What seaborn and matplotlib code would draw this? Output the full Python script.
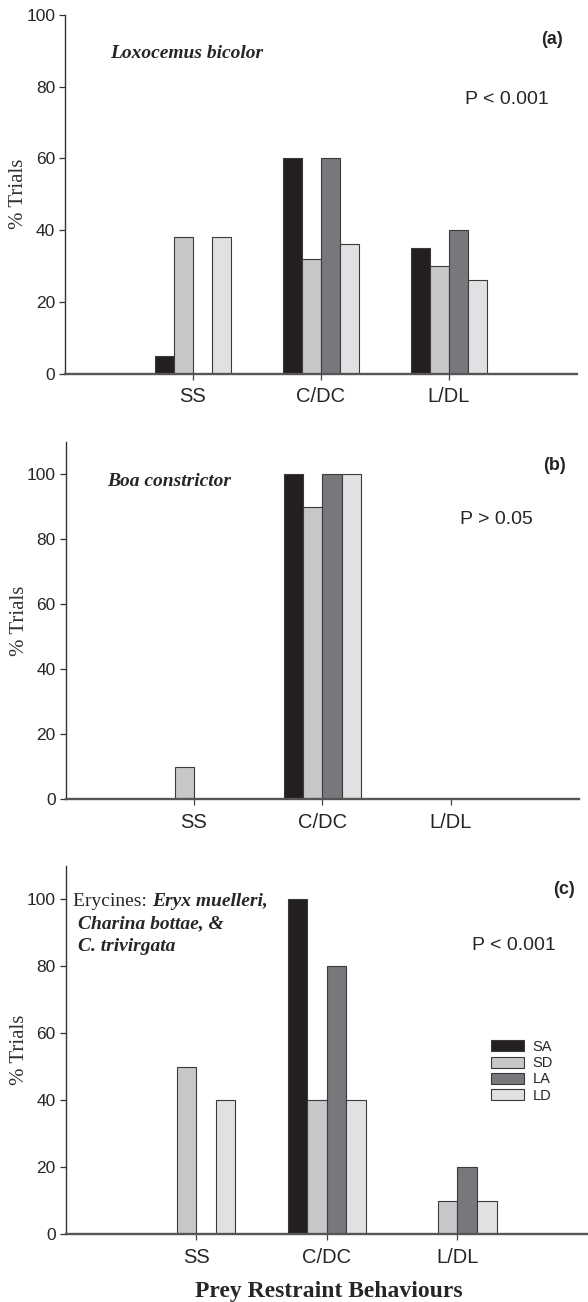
import pandas as pd
import seaborn as sns
import matplotlib.pyplot as plt
import numpy as np

# categories and groups
behaviours = ['SS', 'C/DC', 'L/DL']
groups = ['SA', 'SD', 'LA', 'LD']
colors = ['#231f20', '#c6c7c9', '#77787b', '#e0e1e3']

# % trials per group, in order SS, C/DC, L/DL
loxo_SA = [5, 60, 35]
loxo_SD = [38, 32, 30]
loxo_LA = [0, 60, 40]
loxo_LD = [38, 36, 26]

boa_SA = [0, 100, 0]
boa_SD = [10, 90, 0]
boa_LA = [0, 100, 0]
boa_LD = [0, 100, 0]

eryc_SA = [0, 100, 0]
eryc_SD = [50, 40, 10]
eryc_LA = [0, 80, 20]
eryc_LD = [40, 40, 10]


def make_df(sa, sd, la, ld):
    rows = []
    for g, vals in zip(groups, [sa, sd, la, ld]):
        for b, v in zip(behaviours, vals):
            rows.append({'behaviour': b, 'group': g, 'pct': v})
    return pd.DataFrame(rows)


df_a = make_df(loxo_SA, loxo_SD, loxo_LA, loxo_LD)
df_b = make_df(boa_SA, boa_SD, boa_LA, boa_LD)
df_c = make_df(eryc_SA, eryc_SD, eryc_LA, eryc_LD)

sns.set_style('ticks')
plt.rcParams['font.family'] = ['Liberation Sans', 'DejaVu Sans']

W, H = 588, 1302
fig = plt.figure(figsize=(W / 100, H / 100), dpi=100)


def px_axes(l, t, r, b):
    return fig.add_axes([l / W, 1 - b / H, (r - l) / W, (b - t) / H])


def px(x, y):
    return x / W, 1 - y / H


serif = ['Liberation Serif', 'DejaVu Serif']

ax_a = px_axes(65, 15, 577, 373.5)
ax_b = px_axes(65.5, 442, 579, 799.3)
ax_c = px_axes(65.5, 866, 588, 1234)

panels = [(ax_a, df_a, 100), (ax_b, df_b, 110), (ax_c, df_c, 110)]
for ax, d, top in panels:
    sns.barplot(data=d, x='behaviour', y='pct', hue='group', order=behaviours,
                hue_order=groups, palette=colors, width=0.6, ax=ax,
                edgecolor='#3a3a3a', linewidth=0.8, errorbar=None,
                legend=(ax is ax_c), saturation=1)
    ax.set_xlim(-1, 3)
    ax.set_ylim(0, top)
    ax.set_yticks([0, 20, 40, 60, 80, 100])
    sns.despine(ax=ax)
    ax.spines['left'].set_linewidth(1.0)
    ax.spines['bottom'].set_linewidth(1.7)
    ax.spines['left'].set_color('#333333')
    ax.spines['bottom'].set_color('#555555')
    ax.tick_params(axis='y', length=4, width=0.9, pad=3, labelsize=12.5, color='#333333')
    ax.tick_params(axis='x', length=4.5, width=0.9, pad=5.5, labelsize=14.5, color='#444444')
    ax.set_xlabel('')
    ax.set_ylabel('% Trials', family=serif, fontsize=15, color='#333333')
    ax_w = ax.get_position().width * W
    ax.yaxis.set_label_coords((29 - 65.5) / ax_w, 0.5)

# panel (a)
fig.text(*px(552, 40), '(a)', fontsize=13, fontweight='bold', ha='center', va='center')
fig.text(*px(110.5, 53), 'Loxocemus bicolor', family=serif, fontsize=14,
         fontweight='bold', style='italic', ha='left', va='center')
fig.text(*px(465, 100), 'P < 0.001', fontsize=14, ha='left', va='center')

# panel (b)
fig.text(*px(554, 466), '(b)', fontsize=13, fontweight='bold', ha='center', va='center')
fig.text(*px(107.5, 482), 'Boa constrictor', family=serif, fontsize=14,
         fontweight='bold', style='italic', ha='left', va='center')
fig.text(*px(460, 520), 'P > 0.05', fontsize=14, ha='left', va='center')

# panel (c)
fig.text(*px(564, 890), '(c)', fontsize=13, fontweight='bold', ha='center', va='center')
t1 = fig.text(*px(73, 906), 'Erycines: ', family=serif, fontsize=14,
              ha='left', va='baseline')
ax_c.annotate('Eryx muelleri,', xy=(1, 0), xycoords=t1, va='bottom', ha='left',
              family=serif, fontsize=14, fontweight='bold', style='italic')
fig.text(*px(78.5, 928), 'Charina bottae, &', family=serif, fontsize=14,
         fontweight='bold', style='italic', ha='left', va='baseline')
fig.text(*px(78.5, 951), 'C. trivirgata', family=serif, fontsize=14,
         fontweight='bold', style='italic', ha='left', va='baseline')
fig.text(*px(472.5, 945), 'P < 0.001', fontsize=14, ha='left', va='center')

leg = ax_c.legend(loc='upper left', bbox_to_anchor=px(491, 1040),
                  bbox_transform=fig.transFigure, frameon=False, fontsize=10.5,
                  handlelength=2.25, handleheight=0.77, labelspacing=0.15,
                  handletextpad=0.58, borderpad=0, borderaxespad=0)

fig.text(*px(329, 1292), 'Prey Restraint Behaviours', family=serif, fontsize=17,
         fontweight='bold', ha='center', va='center')

fig.savefig('out.png', dpi=100)
